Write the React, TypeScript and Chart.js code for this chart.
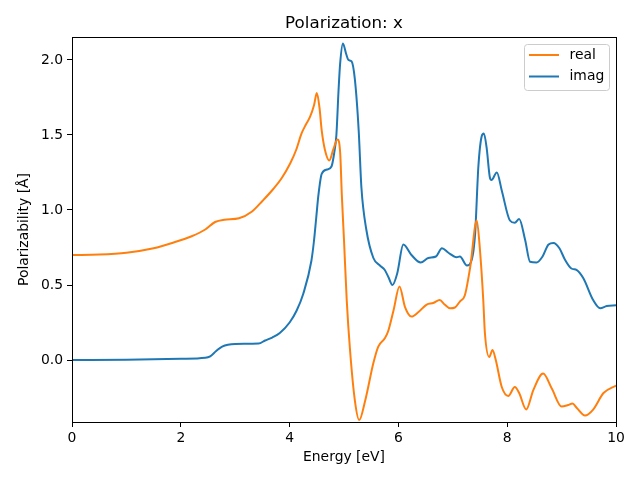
import React, { useEffect, useRef } from "react";
import { Chart, registerables } from "chart.js";

Chart.register(...registerables);

const titleText = "Polarization: x";
const xTitle = "Energy [eV]";
const yTitle = "Polarizability [Å]";
const xTicks = [0, 2, 4, 6, 8, 10];
const yTicks = [0, 0.5, 1.0, 1.5, 2.0];

const realE = [0, 0.5, 1.0, 1.5, 1.84, 2.2, 2.45, 2.63, 2.8, 3.07, 3.31, 3.5, 3.7, 3.85, 4.01, 4.12, 4.22, 4.3, 4.375, 4.45, 4.5, 4.55, 4.59, 4.65, 4.73, 4.8, 4.88, 4.93, 4.96, 5.0, 5.05, 5.11, 5.2, 5.28, 5.39, 5.54, 5.63, 5.75, 5.81, 5.91, 6.02, 6.12, 6.24, 6.37, 6.52, 6.64, 6.76, 6.85, 6.95, 7.04, 7.13, 7.22, 7.32, 7.44, 7.5, 7.56, 7.59, 7.67, 7.73, 7.79, 7.9, 8.02, 8.14, 8.22, 8.35, 8.48, 8.66, 8.82, 9.0, 9.12, 9.2, 9.28, 9.43, 9.58, 9.77, 10.0];
const realV = [0.7, 0.703, 0.715, 0.745, 0.78, 0.825, 0.87, 0.92, 0.935, 0.945, 0.99, 1.06, 1.14, 1.21, 1.31, 1.4, 1.51, 1.57, 1.62, 1.7, 1.78, 1.68, 1.53, 1.4, 1.33, 1.4, 1.47, 1.38, 1.1, 0.8, 0.4, 0.07, -0.27, -0.4, -0.27, -0.02, 0.09, 0.145, 0.19, 0.33, 0.49, 0.355, 0.29, 0.32, 0.37, 0.38, 0.4, 0.37, 0.345, 0.35, 0.39, 0.43, 0.62, 0.93, 0.73, 0.4, 0.18, 0.02, 0.067, 0.0, -0.18, -0.24, -0.18, -0.22, -0.33, -0.2, -0.09, -0.19, -0.31, -0.3, -0.29, -0.32, -0.37, -0.33, -0.22, -0.17];

const imagE = [0, 1.0, 2.0, 2.45, 2.54, 2.65, 2.76, 3.0, 3.43, 3.55, 3.68, 3.82, 4.0, 4.13, 4.25, 4.4, 4.45, 4.49, 4.53, 4.59, 4.69, 4.77, 4.82, 4.86, 4.9, 4.93, 4.98, 5.04, 5.08, 5.14, 5.2, 5.27, 5.32, 5.41, 5.54, 5.66, 5.75, 5.82, 5.89, 5.98, 6.09, 6.24, 6.41, 6.55, 6.69, 6.8, 6.92, 7.07, 7.13, 7.26, 7.35, 7.41, 7.47, 7.53, 7.57, 7.62, 7.68, 7.71, 7.81, 7.9, 8.05, 8.14, 8.22, 8.33, 8.42, 8.54, 8.65, 8.76, 8.85, 8.96, 9.06, 9.18, 9.28, 9.4, 9.58, 9.71, 9.83, 10.0];
const imagV = [0.0, 0.002, 0.008, 0.015, 0.025, 0.06, 0.09, 0.107, 0.11, 0.13, 0.15, 0.18, 0.25, 0.33, 0.44, 0.66, 0.8, 0.95, 1.1, 1.24, 1.27, 1.29, 1.38, 1.5, 1.8, 1.98, 2.11, 2.04, 2.0, 1.99, 1.87, 1.53, 1.15, 0.87, 0.68, 0.63, 0.6, 0.55, 0.5, 0.58, 0.77, 0.7, 0.65, 0.68, 0.69, 0.745, 0.715, 0.685, 0.69, 0.63, 0.67, 0.84, 1.29, 1.49, 1.51, 1.42, 1.22, 1.2, 1.25, 1.13, 0.93, 0.915, 0.94, 0.8, 0.655, 0.65, 0.69, 0.77, 0.78, 0.745, 0.67, 0.61, 0.6, 0.545, 0.4, 0.345, 0.36, 0.365];

const seriesNames = ["real", "imag"];
const seriesColors = ["#ff7f0e", "#1f77b4"];

const FONT = "'DejaVu Sans', sans-serif";

const decorPlugin = {
  id: "decor",
  afterDatasetsDraw(chart: any) {
    const { ctx, chartArea } = chart;
    ctx.save();
    ctx.strokeStyle = "#000";
    ctx.lineWidth = 1;
    ctx.strokeRect(
      Math.round(chartArea.left) + 0.5,
      Math.round(chartArea.top) + 0.5,
      Math.round(chartArea.right - chartArea.left),
      Math.round(chartArea.bottom - chartArea.top)
    );
    ctx.restore();
  },
  afterDraw(chart: any) {
    const { ctx, chartArea } = chart;
    ctx.save();
    ctx.fillStyle = "#000";
    ctx.font = `16.7px ${FONT}`;
    ctx.textAlign = "center";
    ctx.textBaseline = "alphabetic";
    ctx.fillText(titleText, (chartArea.left + chartArea.right) / 2, 28);
    const bx = 524.5, by = 44.5, bw = 85, bh = 46, r = 3;
    ctx.beginPath();
    ctx.moveTo(bx + r, by);
    ctx.lineTo(bx + bw - r, by);
    ctx.arcTo(bx + bw, by, bx + bw, by + r, r);
    ctx.lineTo(bx + bw, by + bh - r);
    ctx.arcTo(bx + bw, by + bh, bx + bw - r, by + bh, r);
    ctx.lineTo(bx + r, by + bh);
    ctx.arcTo(bx, by + bh, bx, by + bh - r, r);
    ctx.lineTo(bx, by + r);
    ctx.arcTo(bx, by, bx + r, by, r);
    ctx.closePath();
    ctx.fillStyle = "rgba(255,255,255,0.8)";
    ctx.fill();
    ctx.strokeStyle = "#cccccc";
    ctx.lineWidth = 1;
    ctx.stroke();
    const rows = [55, 76.5];
    seriesNames.forEach((name, i) => {
      ctx.beginPath();
      ctx.moveTo(529, rows[i]);
      ctx.lineTo(559, rows[i]);
      ctx.strokeStyle = seriesColors[i];
      ctx.lineWidth = 2;
      ctx.stroke();
      ctx.fillStyle = "#000";
      ctx.font = `13.9px ${FONT}`;
      ctx.textAlign = "left";
      ctx.textBaseline = "middle";
      ctx.fillText(name, 569.5, rows[i]);
    });
    ctx.restore();
  },
};

export default function App() {
  const ref = useRef<HTMLCanvasElement | null>(null);
  useEffect(() => {
    if (!ref.current) return;
    const mk = (E: number[], V: number[]) => E.map((x, i) => ({ x, y: V[i] }));
    const chart = new Chart(ref.current, {
      type: "line",
      data: {
        datasets: [
          {
            label: seriesNames[0],
            data: mk(realE, realV),
            borderColor: seriesColors[0],
            backgroundColor: seriesColors[0],
            borderWidth: 2,
            pointRadius: 0,
            cubicInterpolationMode: "monotone",
            fill: false,
          },
          {
            label: seriesNames[1],
            data: mk(imagE, imagV),
            borderColor: seriesColors[1],
            backgroundColor: seriesColors[1],
            borderWidth: 2,
            pointRadius: 0,
            cubicInterpolationMode: "monotone",
            fill: false,
          },
        ],
      },
      options: {
        responsive: false,
        animation: false,
        events: [],
        layout: { padding: { top: 37, right: 24, left: 0, bottom: 0 } },
        plugins: {
          legend: { display: false },
          title: { display: false },
          tooltip: { enabled: false },
        },
        scales: {
          x: {
            type: "linear",
            min: 0,
            max: 10,
            afterFit: (s: any) => { s.height = 58; },
            afterBuildTicks: (s: any) => { s.ticks = xTicks.map((v) => ({ value: v })); },
            grid: { display: true, drawOnChartArea: false, drawTicks: true, tickLength: 5, color: "#000", tickWidth: 1 },
            border: { display: true, color: "#000", width: 1 },
            ticks: {
              color: "#000",
              padding: 3,
              maxRotation: 0,
              font: { family: FONT, size: 13.9 },
              callback: (v: any) => String(v),
            },
            title: {
              display: true,
              text: xTitle,
              color: "#000",
              font: { family: FONT, size: 13.9 },
              padding: { top: 0, bottom: 14.5 },
            },
          },
          y: {
            type: "linear",
            min: -0.413,
            max: 2.153,
            afterFit: (s: any) => { s.width = 72; },
            afterBuildTicks: (s: any) => { s.ticks = yTicks.map((v) => ({ value: v })); },
            grid: { display: true, drawOnChartArea: false, drawTicks: true, tickLength: 5, color: "#000", tickWidth: 1 },
            border: { display: true, color: "#000", width: 1 },
            ticks: {
              color: "#000",
              padding: 4,
              font: { family: FONT, size: 13.9 },
              callback: (v: any) => Number(v).toFixed(1),
            },
            title: {
              display: true,
              text: yTitle,
              color: "#000",
              font: { family: FONT, size: 13.9 },
              padding: { top: 16.5, bottom: 0 },
            },
          },
        },
      },
      plugins: [decorPlugin],
    } as any);
    return () => chart.destroy();
  }, []);
  return (
    <div style={{ position: "absolute", left: 0, top: 0, width: 640, height: 480, background: "#fff" }}>
      <canvas ref={ref} width={640} height={480} style={{ display: "block" }} />
    </div>
  );
}
